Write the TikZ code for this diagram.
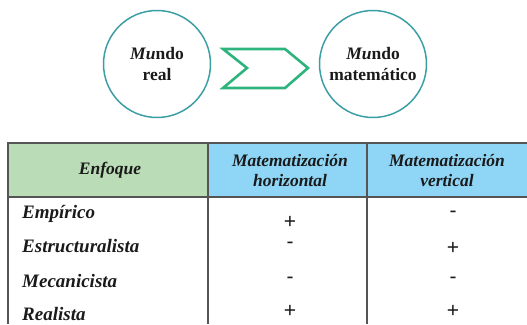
\documentclass[tikz,border=0pt]{standalone}
\usepackage{fontspec}
\setmainfont{Liberation Serif}
\newfontfamily\plusfont{Liberation Sans}
\usetikzlibrary{positioning}
\definecolor{ring}{HTML}{3A9EA4}
\definecolor{arrowgreen}{HTML}{2DB47C}
\definecolor{headgreen}{HTML}{BADCB6}
\definecolor{headblue}{HTML}{8FD6F6}
\definecolor{rule}{HTML}{555555}
\definecolor{ink}{HTML}{1A1A1A}
\tikzset{
  world/.style={circle, draw=ring, line width=1.5pt, minimum size=107pt, align=center, text=ink, font=\bfseries\fontsize{17.5}{21}\selectfont},
  chev/.style={draw=arrowgreen, line width=2.6pt, line join=miter},
  grid/.style={draw=rule, line width=1.1pt},
  head/.style={text=ink, align=center, font=\bfseries\itshape\fontsize{17.5}{20}\selectfont},
  row/.style={anchor=west, text=ink, inner sep=1pt, font=\bfseries\itshape\fontsize{19}{21}\selectfont},
  sign/.style={text=ink, inner sep=0pt, font=\plusfont\fontsize{21}{21}\selectfont},
}
\begin{document}
\begin{tikzpicture}[x=1pt,y=1pt]
\useasboundingbox (0,0) rectangle (527,324);
% the two worlds
\node[world] (real) at (157,260) {\textit{Mu}ndo\\real};
\node[world] (mate) at (373,260) {\textit{Mu}ndo\\matemático};
\draw[chev] (223,275) -- (285,275) -- (308,256) -- (285,236) -- (223,236) -- (247,256) -- cycle;
% header
\fill[headgreen] (8,127) rectangle (208,181);
\fill[headblue] (208,127) rectangle (367,181);
\fill[headblue] (367,127) rectangle (527,181);
\draw[grid] (527,181) -- (8,181) -- (8,0);
\draw[grid] (8,127) -- (527,127);
\draw[grid] (208,181) -- (208,0);
\draw[grid] (367,181) -- (367,0);
\node[head] (enf) at (110,154) {Enfoque};
\node[head] (hor) at (290,153) {Matematización\\horizontal};
\node[head] (ver) at (447,153) {Matematización\\vertical};
% rows
\node[row] (emp) at (21,110) {Empírico};
\node[row] (est) at (21,78) {Estructuralista};
\node[row] (mec) at (21,43) {Mecanicista};
\node[row] (rea) at (21,10) {Realista};
\node[sign] (emph) at (290,102) {+};
\node[sign] (empv) at (453,110) {-};
\node[sign] (esth) at (290,79) {-};
\node[sign] (estv) at (453,76) {+};
\node[sign] (mech) at (290,44) {-};
\node[sign] (mecv) at (453,44) {-};
\node[sign] (reah) at (290,13) {+};
\node[sign] (reav) at (453,13) {+};
\end{tikzpicture}
\end{document}
